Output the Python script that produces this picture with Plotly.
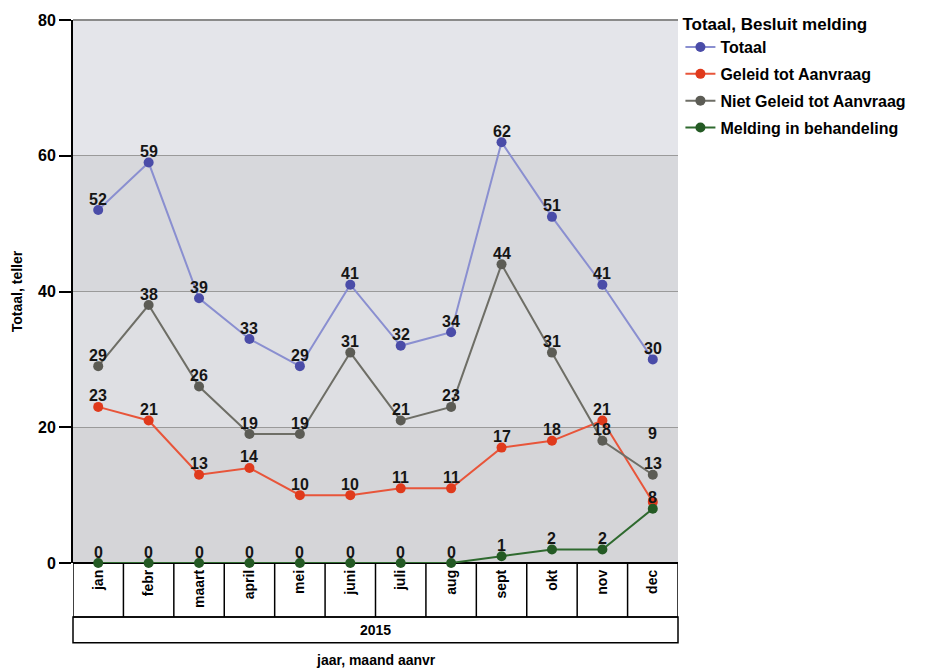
import plotly.graph_objects as go

months = ["jan", "febr", "maart", "april", "mei", "juni", "juli", "aug", "sept", "okt", "nov", "dec"]
year_label = "2015"
totaal = [52, 59, 39, 33, 29, 41, 32, 34, 62, 51, 41, 30]
geleid = [23, 21, 13, 14, 10, 10, 11, 11, 17, 18, 21, 9]
niet_geleid = [29, 38, 26, 19, 19, 31, 21, 23, 44, 31, 18, 13]
melding = [0, 0, 0, 0, 0, 0, 0, 0, 1, 2, 2, 8]
y_ticks = [0, 20, 40, 60, 80]

series = [
    ("Totaal", totaal, "#8a8fd0", "#4a4ca8"),
    ("Geleid tot Aanvraag", geleid, "#e8553a", "#e03a1c"),
    ("Niet Geleid tot Aanvraag", niet_geleid, "#6e6e66", "#5c5c55"),
    ("Melding in behandeling", melding, "#2f6a2f", "#245a24"),
]
FONT = "Liberation Sans, Arial"
LBL = dict(family=FONT, size=16, color="#151515")

fig = go.Figure()
x = list(range(len(months)))
for gi, (name, vals, lc, mc) in enumerate(series):
    fig.add_trace(go.Scatter(
        x=x, y=vals, name="<b>%s</b>" % name, mode="lines+markers", legendgroup="g%d" % gi,
        line=dict(color=lc, width=2), marker=dict(color=mc, size=10),
        cliponaxis=False,
    ))

# data labels (drawn after markers, slightly overlapping like the reference)
for gi, (name, vals, lc, mc) in enumerate(series):
    for xi, v in zip(x, vals):
        shift = 11
        if name == "Geleid tot Aanvraag" and xi == x[-1]:
            shift = 68
        fig.add_annotation(x=xi, y=v, text="<b>%d</b>" % v, showarrow=False,
                           yanchor="middle", yshift=shift, font=LBL)

# background bands
band_colors = ["#d5d5d8", "#dedfe3", "#d7d8dc", "#e4e5ea"]
for i in range(len(y_ticks) - 1):
    fig.add_shape(type="rect", xref="paper", yref="y", x0=0, x1=1,
                  y0=y_ticks[i], y1=y_ticks[i + 1], fillcolor=band_colors[i],
                  line=dict(width=0), layer="below")

# category table below the axis
row1_top, row1_bot, row2_bot = 0, -0.0994, -0.147
for i in range(len(months) + 1):
    fig.add_shape(type="line", xref="x", yref="paper", x0=i - 0.5, x1=i - 0.5,
                  y0=row1_top, y1=row1_bot, line=dict(color="black", width=1.5))
fig.add_shape(type="line", xref="paper", yref="paper", x0=0, x1=1, y0=row1_bot, y1=row1_bot,
              line=dict(color="black", width=1.5))
fig.add_shape(type="rect", xref="paper", yref="paper", x0=0, x1=1, y0=row1_bot, y1=row2_bot,
              line=dict(color="black", width=1.5))
fig.add_annotation(xref="paper", yref="paper", x=0.5, y=(row1_bot + row2_bot) / 2,
                   yanchor="middle", text="<b>" + year_label + "</b>", showarrow=False,
                   font=dict(family=FONT, size=14, color="black"))
fig.add_annotation(xref="paper", yref="paper", x=0.5, y=-0.1785, yanchor="middle",
                   text="<b>jaar, maand aanvr</b>", showarrow=False,
                   font=dict(family=FONT, size=14, color="black"))

fig.update_layout(
    width=938, height=663,
    margin=dict(l=65, r=268, t=12, b=108, autoexpand=False),
    paper_bgcolor="white", plot_bgcolor="#dcdde1",
    font=dict(family=FONT, color="black"),
    showlegend=True,
    legend=dict(x=1.004, y=1.022, xanchor="left", yanchor="top",
                title=dict(text="<b>Totaal, Besluit melding</b>",
                           font=dict(size=17, family=FONT)),
                font=dict(size=16, family=FONT),
                bgcolor="rgba(0,0,0,0)", tracegroupgap=3, itemwidth=30),
    xaxis=dict(range=[-0.5, len(months) - 0.5], tickmode="array", tickvals=x,
               ticktext=["<b>%s</b>" % m for m in months], automargin=False,
               tickangle=-90, showgrid=False, zeroline=False, showline=False,
               ticks="", tickfont=dict(size=14, family=FONT),
               ticklabelstandoff=3),
    yaxis=dict(range=[0, 80], tickmode="array", tickvals=y_ticks,
               ticktext=["<b>%d</b>" % t for t in y_ticks],
               showgrid=True, gridcolor="#9a9a9a", gridwidth=1,
               zeroline=True, zerolinecolor="black", zerolinewidth=2, automargin=False,
               showline=True, linecolor="black", linewidth=2,
               ticks="outside", ticklen=12, tickcolor="black", tickwidth=1.5,
               tickfont=dict(size=16, family=FONT),
               title=dict(text="<b>Totaal, teller</b>", font=dict(size=14), standoff=12)),
)
fig.add_shape(type="line", xref="paper", yref="paper", x0=0, x1=1, y0=1, y1=1,
              line=dict(color="#8a8a8a", width=2))

fig.write_html("out.html")
